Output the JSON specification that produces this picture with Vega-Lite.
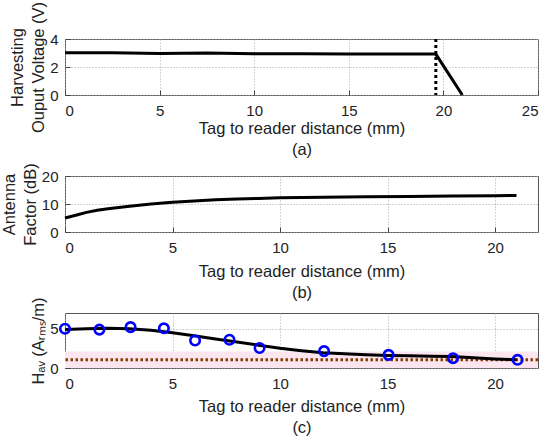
{
  "$schema": "https://vega.github.io/schema/vega-lite/v6.json",
  "background": "white",
  "padding": {"left": 0, "top": 0, "right": 5, "bottom": 5},
  "bounds": "flush",
  "spacing": 81,
  "datasets": {
    "a": [
      {"d": 0, "v": 3.02}, {"d": 2.5, "v": 3.01}, {"d": 5, "v": 2.97}, {"d": 7.5, "v": 3.0},
      {"d": 10, "v": 2.95}, {"d": 12.5, "v": 2.95}, {"d": 15, "v": 2.93}, {"d": 17.5, "v": 2.93},
      {"d": 19.6, "v": 2.92}, {"d": 21, "v": 0}
    ],
    "arule": [{"d": 19.6}],
    "b": [
      {"d": 0, "af": 5.0}, {"d": 0.5, "af": 6.0}, {"d": 1, "af": 7.0}, {"d": 1.5, "af": 7.8},
      {"d": 2, "af": 8.3}, {"d": 3, "af": 9.2}, {"d": 4, "af": 10.0}, {"d": 5, "af": 10.6},
      {"d": 6, "af": 11.1}, {"d": 7, "af": 11.5}, {"d": 8, "af": 11.8}, {"d": 9, "af": 12.0},
      {"d": 10, "af": 12.2}, {"d": 12, "af": 12.4}, {"d": 14, "af": 12.6}, {"d": 16, "af": 12.7},
      {"d": 18, "af": 12.85}, {"d": 20, "af": 12.95}, {"d": 21, "af": 13.05}
    ],
    "band": [{"x0": 0, "x1": 22, "y0": 0, "y1": 2.1}],
    "cline": [
      {"d": 0, "h": 4.9}, {"d": 1, "h": 5.0}, {"d": 2, "h": 5.05}, {"d": 3, "h": 5.0},
      {"d": 4, "h": 4.8}, {"d": 5, "h": 4.5}, {"d": 6, "h": 4.1}, {"d": 7, "h": 3.7},
      {"d": 8, "h": 3.3}, {"d": 9, "h": 2.9}, {"d": 10, "h": 2.5}, {"d": 11, "h": 2.2},
      {"d": 12, "h": 1.95}, {"d": 13, "h": 1.8}, {"d": 14, "h": 1.68}, {"d": 15, "h": 1.6},
      {"d": 16, "h": 1.55}, {"d": 17, "h": 1.5}, {"d": 18, "h": 1.45}, {"d": 19, "h": 1.3},
      {"d": 20, "h": 1.15}, {"d": 21, "h": 1.05}
    ],
    "cpts": [
      {"d": 0, "h": 5.0}, {"d": 1.6, "h": 4.88}, {"d": 3.05, "h": 5.2}, {"d": 4.6, "h": 5.05},
      {"d": 6.05, "h": 3.5}, {"d": 7.65, "h": 3.6}, {"d": 9.05, "h": 2.55}, {"d": 12.05, "h": 2.15},
      {"d": 15.05, "h": 1.67}, {"d": 18.05, "h": 1.25}, {"d": 21.05, "h": 1.04}
    ],
    "thr": [{"h": 1.05}]
  },
  "vconcat": [
    {
      "width": 473,
      "height": 56,
      "layer": [
        {
          "data": {"name": "a"},
          "mark": {"type": "line", "color": "black", "strokeWidth": 3},
          "encoding": {
            "x": {"field": "d", "type": "quantitative", "scale": {"domain": [0, 25], "nice": false},
                  "axis": {"values": [0, 5, 10, 15, 20, 25], "titlePadding": 2, "title": ["Tag to reader distance (mm)", "(a)"]}},
            "y": {"field": "v", "type": "quantitative", "scale": {"domain": [0, 4], "nice": false},
                  "axis": {"values": [0, 2, 4], "title": ["Harvesting", "Ouput Voltage (V)"]}}
          }
        },
        {
          "data": {"name": "arule"},
          "mark": {"type": "rule", "color": "black", "strokeWidth": 3, "strokeDash": [3, 3]},
          "encoding": {"x": {"field": "d", "type": "quantitative"}}
        }
      ]
    },
    {
      "width": 473,
      "height": 56,
      "layer": [
        {
          "data": {"name": "b"},
          "mark": {"type": "line", "color": "black", "strokeWidth": 3},
          "encoding": {
            "x": {"field": "d", "type": "quantitative", "scale": {"domain": [0, 22], "nice": false},
                  "axis": {"values": [0, 5, 10, 15, 20], "titlePadding": 8, "title": ["Tag to reader distance (mm)", "(b)"]}},
            "y": {"field": "af", "type": "quantitative", "scale": {"domain": [0, 20], "nice": false},
                  "axis": {"values": [0, 10, 20], "title": ["Antenna", "Factor (dB)"]}}
          }
        }
      ]
    },
    {
      "width": 473,
      "height": 55,
      "layer": [
        {
          "data": {"name": "band"},
          "mark": {"type": "rect", "color": "#fbe6ef"},
          "encoding": {
            "x": {"field": "x0", "type": "quantitative", "scale": {"domain": [0, 22], "nice": false},
                  "axis": {"values": [0, 5, 10, 15, 20], "titlePadding": 7, "title": ["Tag to reader distance (mm)", "(c)"]}},
            "x2": {"field": "x1"},
            "y": {"field": "y0", "type": "quantitative", "scale": {"domain": [0, 7], "nice": false},
                  "axis": {"values": [0, 5], "title": "Hₐᵥ (Aᵣₘₛ/m)"}},
            "y2": {"field": "y1"}
          }
        },
        {
          "data": {"name": "thr"},
          "mark": {"type": "rule", "color": "#8a3b00", "strokeWidth": 3, "strokeDash": [2.5, 2.5]},
          "encoding": {"y": {"field": "h", "type": "quantitative"}}
        },
        {
          "data": {"name": "cline"},
          "mark": {"type": "line", "color": "black", "strokeWidth": 3},
          "encoding": {
            "x": {"field": "d", "type": "quantitative"},
            "y": {"field": "h", "type": "quantitative"}
          }
        },
        {
          "data": {"name": "cpts"},
          "mark": {"type": "point", "color": "#0000ff", "filled": false, "strokeWidth": 2.6, "size": 90, "opacity": 1},
          "encoding": {
            "x": {"field": "d", "type": "quantitative"},
            "y": {"field": "h", "type": "quantitative"}
          }
        }
      ]
    }
  ],
  "config": {
    "font": "Liberation Sans",
    "view": {"stroke": "#555", "strokeWidth": 1},
    "axis": {
      "labelFontSize": 15,
      "titleFontSize": 16.5,
      "titleFontWeight": "normal",
      "labelColor": "#222",
      "titleColor": "#222",
      "domain": false,
      "tickColor": "#444",
      "tickSize": -5,
      "grid": true,
      "gridColor": "#a8a8a8",
      "gridDash": [1, 2],
      "titleLineHeight": 21
    },
    "axisX": {"labelPadding": 13},
    "axisY": {"labelPadding": 12, "titlePadding": 3}
  }
}
